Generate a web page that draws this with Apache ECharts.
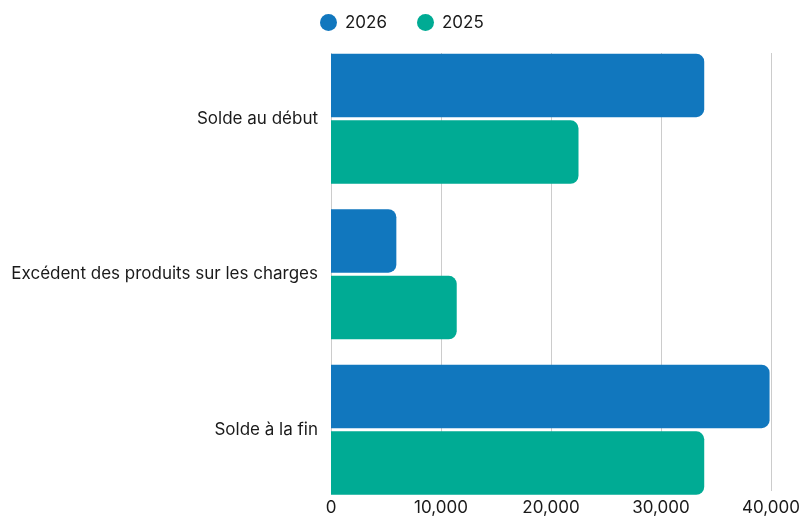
<!DOCTYPE html>
<html>
<head>
<meta charset="utf-8">
<script src="https://cdn.jsdelivr.net/npm/echarts@6/dist/echarts.min.js"></script>
<style>
  html, body { margin: 0; padding: 0; background: #fff; }
  #chart { width: 804px; height: 516px; }
</style>
</head>
<body>
<div id="chart"></div>
<script>
const categories = ["Solde au début", "Excédent des produits sur les charges", "Solde à la fin"];
const seriesNames = ["2026", "2025"];
const values2026 = [33930, 5940, 39870];
const values2025 = [22500, 11430, 33930];
const xTicks = [0, 10000, 20000, 30000, 40000];

const chart = echarts.init(document.getElementById("chart"));
const font = "Inter, 'Noto Sans', sans-serif";

const option = {
  animation: false,
  color: ["#1177be", "#00ab94"],
  legend: {
    top: 9,
    left: 315,
    icon: "circle",
    itemWidth: 23,
    itemHeight: 17,
    itemGap: 30,
    data: seriesNames,
    textStyle: { color: "#1a1a1a", fontSize: 17, fontFamily: font }
  },
  grid: [
    // bars
    { left: 331, right: 33, top: 41, bottom: 8.5 },
    // value axis / gridlines
    { left: 331, right: 33, top: 53, bottom: 22 }
  ],
  xAxis: [
    { gridIndex: 0, type: "value", min: xTicks[0], max: xTicks[xTicks.length - 1], interval: 10000, show: false },
    {
      gridIndex: 1,
      type: "value",
      min: xTicks[0],
      max: xTicks[xTicks.length - 1],
      interval: 10000,
      axisLine: { show: false },
      axisTick: { show: false },
      splitLine: { lineStyle: { color: "#cccccc", width: 1 } },
      axisLabel: { color: "#1a1a1a", fontSize: 17, fontFamily: font, margin: 8 }
    }
  ],
  yAxis: [
    {
      gridIndex: 0,
      type: "category",
      inverse: true,
      data: categories,
      axisLine: { show: false },
      axisTick: { show: false },
      axisLabel: { color: "#1a1a1a", fontSize: 17, fontFamily: font, margin: 13 }
    },
    { gridIndex: 1, type: "category", data: categories, show: false }
  ],
  series: [
    {
      name: seriesNames[0],
      type: "bar",
      xAxisIndex: 0,
      yAxisIndex: 0,
      barWidth: 63.5,
      barGap: "5%",
      itemStyle: { borderRadius: [0, 8, 8, 0] },
      data: values2026
    },
    {
      name: seriesNames[1],
      type: "bar",
      xAxisIndex: 0,
      yAxisIndex: 0,
      barWidth: 63.5,
      barGap: "5%",
      itemStyle: { borderRadius: [0, 8, 8, 0] },
      data: values2025
    }
  ]
};
chart.setOption(option);
</script>
</body>
</html>
